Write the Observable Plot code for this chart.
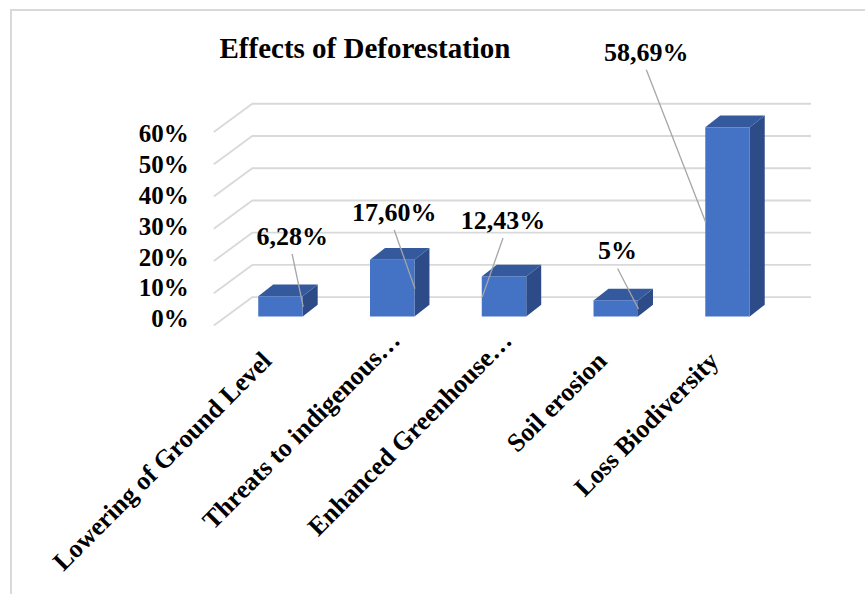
<!DOCTYPE html>
<html>
<head>
<meta charset="utf-8">
<script src="https://cdn.jsdelivr.net/npm/d3@7"></script>
<script src="https://cdn.jsdelivr.net/npm/@observablehq/plot@0.6"></script>
<style>
  html, body { margin: 0; padding: 0; background: #fff; overflow: hidden; }
  #wrap { position: relative; width: 865px; height: 594px; overflow: hidden; }
  #frame { position: absolute; left: 10px; top: 9px; width: 900px; height: 700px;
           border-left: 2px solid #d9d9d9; border-top: 2px solid #d9d9d9; }
  #chart { position: absolute; left: 0; top: 0; }
  #title { position: absolute; left: 0; top: 34px; width: 730px; text-align: center;
           font: bold 29px "Liberation Serif", "Times New Roman", serif; line-height: 29px; color: #000; }
</style>
</head>
<body>
<div id="wrap">
  <div id="frame"></div>
  <div id="chart"></div>
  <div id="title">Effects of Deforestation</div>
</div>
<script>
// ---- data ----
const categories = ["Lowering of Ground Level", "Threats to indigenous…", "Enhanced Greenhouse…", "Soil erosion", "Loss Biodiversity"];
const values = [6.28, 17.60, 12.43, 5, 58.69];
const valueLabels = ["6,28%", "17,60%", "12,43%", "5%", "58,69%"];
const yTicks = [0, 10, 20, 30, 40, 50, 60];
const yTickLabels = ["0%", "10%", "20%", "30%", "40%", "50%", "60%"];

// ---- layout (data-label placement, in scale units) ----
const labelShiftX = [0.10, 0.013, -0.013, 0.012, -0.731];
const labelPosY = [24.97, 32.41, 29.93, 20.47, 82.13];

// ---- 3D geometry constants (scale units) ----
const BW = 0.398;          // bar width (category units)
const DX = 0.134, DY = 3.63;   // bar depth
const BACK_Y = 6.14, FRONT_Y = -2.64;   // wall depth offsets
const BACK_X1 = -0.2575, BACK_X2 = 4.747, FRONT_X = -0.601;
const LEADER_GAP = 5.43;
const TICK_K = 0.9558, TICK_Y0 = -0.68;   // perspective of axis labels

const FRONT = "#4472c4", TOP = "#35599d", SIDE = "#2d4b86";
const GRID = "#d9d9d9";

const sideData = values.flatMap((v, i) => [
  {k: i, x: i + BW / 2, y1: 0, y2: v},
  {k: i, x: i + BW / 2 + DX, y1: DY, y2: v + DY}
]);
const topData = values.flatMap((v, i) => [
  {k: i, y: v, x1: i - BW / 2, x2: i + BW / 2},
  {k: i, y: v + DY, x1: i - BW / 2 + DX, x2: i + BW / 2 + DX}
]);
const isCut = (s) => s.endsWith("…");

const chart = Plot.plot({
  width: 865,
  height: 594,
  margin: 0,
  style: {background: "transparent", fontFamily: "'Liberation Serif', 'Times New Roman', serif", color: "#000"},
  x: {type: "linear", domain: [-0.5, 4.5], range: [224.6, 783.4], axis: null},
  y: {type: "linear", domain: [0, 60], range: [316.5, 123.06], axis: null},
  marks: [
    // back wall gridlines
    Plot.ruleY(yTicks, {y: d => d + BACK_Y, x1: () => BACK_X1, x2: () => BACK_X2, stroke: GRID, strokeWidth: 1.8}),
    // side wall diagonals
    Plot.link(yTicks, {x1: () => FRONT_X, y1: d => d + FRONT_Y, x2: () => BACK_X1, y2: d => d + BACK_Y, stroke: GRID, strokeWidth: 1.8}),
    // bars: side, top, front
    Plot.areaY(sideData, {x: "x", y1: "y1", y2: "y2", z: "k", fill: SIDE}),
    Plot.areaX(topData, {y: "y", x1: "x1", x2: "x2", z: "k", fill: TOP}),
    Plot.rect(values, {x1: (d, i) => i - BW / 2, x2: (d, i) => i + BW / 2, y1: () => 0, y2: d => d, fill: FRONT}),
    // leader lines
    Plot.link(values, {
      x1: (d, i) => i + labelShiftX[i],
      y1: (d, i) => labelPosY[i] - LEADER_GAP,
      x2: (d, i) => labelShiftX[i] >= 0 ? i + BW / 2 : i - BW / 2,
      y2: d => d / 2,
      stroke: "#a6a6a6", strokeWidth: 1.3
    }),
    // data labels
    Plot.text(valueLabels, {
      x: (d, i) => i + labelShiftX[i], y: (d, i) => labelPosY[i], text: d => d,
      fontSize: 26, fontWeight: "bold", fill: "#000"
    }),
    // y tick labels
    Plot.text(yTicks, {
      x: () => FRONT_X, y: d => TICK_Y0 + d * TICK_K, text: (d, i) => yTickLabels[i],
      textAnchor: "end", dx: -25, fontSize: 25, fontWeight: "bold", fill: "#000"
    }),
    // category labels
    Plot.text(categories, {
      x: (d, i) => i + (isCut(d) ? 0.0805 : -0.0716),
      y: d => isCut(d) ? -7.75 : -14.11,
      text: d => d, rotate: -45, textAnchor: "end", lineAnchor: "bottom",
      fontSize: 26, fontWeight: "bold", fill: "#000"
    })
  ]
});
document.getElementById("chart").appendChild(chart);
</script>
</body>
</html>
